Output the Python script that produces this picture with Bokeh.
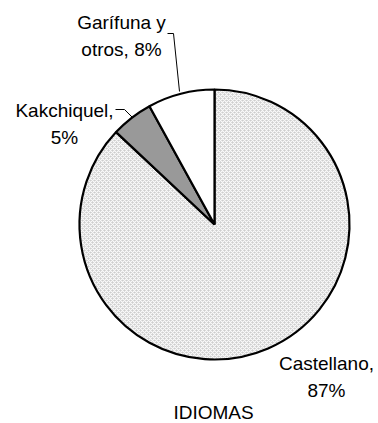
import math
from bokeh.plotting import figure
from bokeh.models import Range1d, ColumnDataSource
from bokeh.core.properties import value
from bokeh.embed import file_html
from bokeh.resources import INLINE

# ---- data ----
categories = ["Castellano", "Kakchiquel", "Garífuna y otros"]
values = [87, 5, 8]
labels = ["Castellano,\n87%", "Kakchiquel,\n5%", "Garífuna y\notros, 8%"]
title = "IDIOMAS"

# ---- layout (data x = screen x, data y = 423 - screen y) ----
W, H = 378, 423
p = figure(width=W, height=H, output_backend="svg", toolbar_location=None,
           x_range=Range1d(0, 378), y_range=Range1d(0, 423),
           min_border=0, outline_line_color=None)
p.axis.visible = False
p.grid.visible = False
p.background_fill_color = "white"
p.border_fill_color = "white"

cx, cy, r = 214, 423 - 224, 135
total = sum(values)
starts, ends = [], []
acc = 0.0
for v in values:
    a0 = math.pi / 2 - 2 * math.pi * acc / total
    acc += v
    a1 = math.pi / 2 - 2 * math.pi * acc / total
    starts.append(a0)
    ends.append(a1)

fills = ["#cdcdcd", "#999999", "#ffffff"]
hatches = ["diagonal_cross", " ", " "]
src = ColumnDataSource(dict(start=starts, end=ends, fill=fills, hatch=hatches, cat=categories))
p.wedge(x=cx, y=cy, radius=r, start_angle="start", end_angle="end", direction="clock",
        source=src, fill_color="fill", line_color="black", line_width=2.2,
        hatch_pattern="hatch", hatch_color="white", hatch_scale=4, hatch_weight=1.2,
        hatch_alpha=0.9)

# labels
lx = [326, 64, 121]
ly = [423 - 352, 423 - 99, 423 - 11]
p.text(x=lx, y=ly, text=labels, text_align="center", text_baseline="top",
       text_font=value("Liberation Sans"), text_font_size="19px", text_color="black",
       text_line_height=1.3)

# leader lines
p.line(x=[167, 173, 179], y=[423 - 33, 423 - 33, 423 - 91], line_color="black", line_width=1)
p.line(x=[115, 124, 132], y=[423 - 109, 423 - 109, 423 - 117], line_color="black", line_width=1)

# bottom title
p.text(x=[213], y=[423 - 401], text=[title], text_align="center", text_baseline="top",
       text_font=value("Liberation Sans"), text_font_size="19px", text_color="black")

open("out.html", "w").write(file_html(p, INLINE))
